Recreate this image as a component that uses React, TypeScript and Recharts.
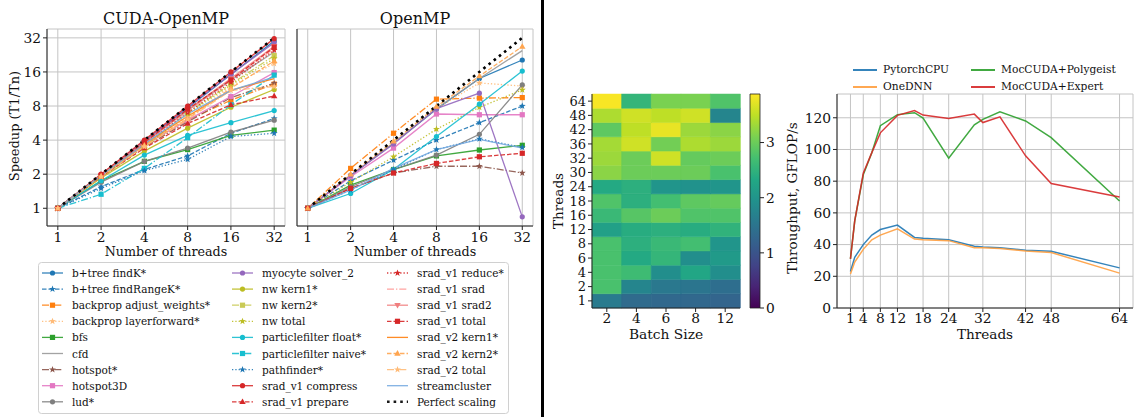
import React from 'react';
import { LineChart, Line, XAxis, YAxis, CartesianGrid, BarChart, Bar, Cell } from 'recharts';

const FONT = '"DejaVu Serif", serif';

// ---- speedup panels ----
const THREADS = [1, 2, 4, 8, 16, 32];
const SPEEDUP_TICKS = [1, 2, 4, 8, 16, 32];
const MINOR_X = [3, 5, 6, 7, 9, 10, 20, 30];
const MINOR_Y = [0.8, 0.9, 3, 5, 6, 7, 9, 10, 20, 30];
const PERFECT = [1, 2, 4, 8, 16, 32];

const SERIES_NAMES = [
  'b+tree findK*', 'b+tree findRangeK*', 'backprop adjust_weights*', 'backprop layerforward*',
  'bfs', 'cfd', 'hotspot*', 'hotspot3D', 'lud*',
  'myocyte solver_2', 'nw kern1*', 'nw kern2*', 'nw total', 'particlefilter float*',
  'particlefilter naive*', 'pathfinder*', 'srad_v1 compress', 'srad_v1 prepare',
  'srad_v1 reduce*', 'srad_v1 srad', 'srad_v1 srad2', 'srad_v1 total', 'srad_v2 kern1*',
  'srad_v2 kern2*', 'srad_v2 total', 'streamcluster',
];
const SERIES_COLORS = [
  '#1f77b4', '#1f77b4', '#ff7f0e', '#ffbb78', '#2ca02c', '#999999', '#8c564b', '#e377c2', '#7f7f7f',
  '#9467bd', '#bcbd22', '#c9ca55', '#bcbd22', '#17becf', '#17becf', '#1f77b4', '#d62728', '#d62728',
  '#d62728', '#ff9896', '#f07f7f', '#d62728', '#ff7f0e', '#ffa54f', '#ffbb78', '#74a9e0',
];
const SERIES_STYLES = [
  'solid', 'dashed', 'dashdot', 'dotted', 'solid', 'solid', 'dashdot', 'solid', 'solid',
  'solid', 'solid', 'dashdot', 'dotted', 'solid', 'dashdot', 'dotted', 'solid', 'dashed',
  'dotted', 'dashdot', 'solid', 'dashed', 'solid', 'dashed', 'dashdot', 'solid',
];
const SERIES_MARKERS = [
  'o', '*', 's', '*', 's', '', '*', 's', 'o',
  'o', 'o', 's', '*', 'o', 's', '*', 'o', '^',
  '*', '', 'v', 's', '', '^', '*', '',
];

const CUDA_OPENMP = [
  [1, 1.97, 3.9, 7.7, 15.2, 30],
  [1, 1.55, 2.2, 2.9, 4.6, 6.2],
  [1, 1.9, 3.5, 6.0, 9.0, 12.5],
  [1, 1.92, 3.6, 6.3, 12.0, 19],
  [1, 1.75, 2.6, 3.3, 4.4, 4.9],
  [1, 1.95, 3.8, 7.3, 13.5, 24],
  [1, 1.9, 3.5, 5.8, 9.5, 12.7],
  [1, 1.9, 3.6, 6.0, 9.7, 15.8],
  [1, 1.7, 2.6, 3.4, 4.7, 6.0],
  [1, 1.98, 3.9, 7.8, 15.3, 29],
  [1, 1.85, 3.2, 5.1, 7.8, 11.2],
  [1, 1.9, 3.5, 7.0, 12.5, 22.3],
  [1, 1.9, 3.5, 6.8, 12.3, 21],
  [1, 1.75, 2.95, 4.4, 5.7, 7.3],
  [1, 1.33, 2.25, 4.2, 8.2, 15],
  [1, 1.5, 2.15, 2.7, 4.3, 4.6],
  [1, 2, 4, 8, 16, 31.5],
  [1, 1.9, 3.4, 5.6, 8.2, 9.8],
  [1, 1.95, 3.7, 7.0, 13, 25],
  [1, 1.95, 3.8, 7.2, 13.5, 26],
  [1, 1.95, 3.8, 7.4, 14, 27],
  [1, 1.95, 3.8, 7.5, 13.6, 26.5],
  [1, 1.95, 3.7, 6.5, 11, 14],
  [1, 1.92, 3.6, 6.2, 11.5, 20],
  [1, 1.9, 3.5, 6.1, 11, 11.9],
  [1, 1.95, 3.7, 6.8, 11, 14.4],
];

const OPENMP = [
  [1, 1.95, 3.75, 7.5, 14, 20.4],
  [1, 1.75, 2.66, 4.0, 5.7, 8.0],
  [1, 2.25, 4.6, 9.2, 9.4, 9.5],
  [1, 1.95, 3.8, 7.6, 12.8, 12.0],
  [1, 1.6, 2.2, 2.9, 3.27, 3.6],
  [1, 1.95, 3.75, 7.6, 14, 24.7],
  [1, 1.5, 2.05, 2.35, 2.35, 2.05],
  [1, 1.9, 3.4, 6.8, 6.7, 6.7],
  [1, 1.55, 2.2, 2.95, 4.5, 12.3],
  [1, 1.95, 3.7, 7.6, 10.4, 0.84],
  null,
  null,
  [1, 1.7, 2.85, 5.0, 7.8, 11.1],
  [1, 1.35, 2.2, 4.3, 8.3, 16.3],
  null,
  [1, 1.45, 2.2, 3.3, 4.1, 3.45],
  null,
  null,
  null,
  null,
  null,
  [1, 1.5, 2.05, 2.49, 2.85, 3.06],
  null,
  [1, 2.0, 3.9, 7.9, 14.7, 26.8],
  null,
  [1, 1.45, 2.25, 3.3, 4.06, 3.4],
];

// ---- heatmap ----
const HEAT_BATCH = [2, 4, 6, 8, 12];
const HEAT_THREADS = [1, 2, 4, 6, 8, 12, 16, 18, 24, 30, 32, 36, 42, 48, 64];
const HEAT_VALUES = [
  [1.6, 1.35, 1.3, 1.3, 1.25],
  [2.75, 1.75, 1.55, 1.5, 1.4],
  [2.75, 2.65, 1.9, 2.3, 1.9],
  [2.75, 2.35, 2.55, 1.9, 2.1],
  [2.75, 2.45, 2.6, 2.7, 2.0],
  [2.2, 2.4, 2.45, 2.4, 2.5],
  [2.6, 2.85, 3.0, 2.8, 2.8],
  [2.8, 2.45, 2.7, 2.9, 2.95],
  [2.35, 2.45, 2.0, 1.95, 2.0],
  [3.2, 3.0, 3.0, 3.0, 2.75],
  [3.3, 3.0, 3.6, 2.95, 3.0],
  [3.35, 3.6, 3.05, 3.4, 3.3],
  [2.9, 3.5, 3.75, 3.3, 3.2],
  [3.4, 3.6, 3.5, 3.6, 1.75],
  [3.85, 2.55, 3.1, 3.1, 2.8],
];
const HEAT_VMAX = 3.88;
const COLORBAR_TICKS = [0, 1, 2, 3];

// ---- throughput ----
const TP_THREADS = [1, 2, 4, 6, 8, 12, 16, 18, 24, 30, 32, 36, 42, 48, 64];
const TP_TICKS = [1, 4, 8, 12, 18, 24, 32, 42, 48, 64];
const TP_Y_TICKS = [0, 20, 40, 60, 80, 100, 120];
const PYTORCH_CPU = [23, 32, 40, 46, 49.5, 52.3, 44.5, 44, 43, 39, 38.5, 38, 36.5, 35.8, 25.3];
const ONEDNN = [21.5, 29, 37, 43, 46, 50, 43.5, 43, 42.5, 38, 38, 37.5, 36, 35, 22];
const MOC_POLYGEIST = [31, 55, 84, 98, 115, 122, 123.2, 119.8, 94.5, 115.5, 119, 123.8, 118, 107.5, 67.5];
const MOC_EXPERT = [31, 55, 85, 98, 110.5, 121.5, 124.5, 121.7, 119.5, 122.3, 117, 120.6, 96, 78.5, 70];
const TP_NAMES = ['PytorchCPU', 'OneDNN', 'MocCUDA+Polygeist', 'MocCUDA+Expert'];
const TP_COLORS = ['#1f77b4', '#ff9f3f', '#2ca02c', '#d62728'];

const DASH: Record<string, string | undefined> = {
  solid: undefined,
  dashed: '4.5 2',
  dashdot: '7 2 1.3 2',
  dotted: '1.3 2',
};

const VIRIDIS = ['#440154', '#482475', '#414487', '#355f8d', '#2a788e', '#21918c', '#22a884', '#44bf70', '#7ad151', '#bddf26', '#fde725'];

function viridis(t: number) {
  const c = Math.max(0, Math.min(1, t)) * (VIRIDIS.length - 1);
  const i = Math.min(VIRIDIS.length - 2, Math.floor(c));
  const f = c - i;
  const a = VIRIDIS[i], b = VIRIDIS[i + 1];
  const ch = (h: string, k: number) => parseInt(h.slice(1 + k * 2, 3 + k * 2), 16);
  const mix = [0, 1, 2].map((k) => Math.round(ch(a, k) + (ch(b, k) - ch(a, k)) * f));
  return `rgb(${mix.join(',')})`;
}

function Marker({ type, x, y, color }: { type: string; x: number; y: number; color: string }) {
  if (type === 'o') return <circle cx={x} cy={y} r={2.6} fill={color} />;
  if (type === 's') return <rect x={x - 2.6} y={y - 2.6} width={5.2} height={5.2} fill={color} />;
  if (type === '^') return <polygon points={`${x},${y - 3.4} ${x - 3.2},${y + 2.2} ${x + 3.2},${y + 2.2}`} fill={color} />;
  if (type === 'v') return <polygon points={`${x},${y + 3.4} ${x - 3.2},${y - 2.2} ${x + 3.2},${y - 2.2}`} fill={color} />;
  if (type === '*') {
    const pts: string[] = [];
    for (let i = 0; i < 10; i++) {
      const r = i % 2 === 0 ? 3.6 : 1.5;
      const a = -Math.PI / 2 + (i * Math.PI) / 5;
      pts.push(`${x + r * Math.cos(a)},${y + r * Math.sin(a)}`);
    }
    return <polygon points={pts.join(' ')} fill={color} />;
  }
  return null;
}

const markerDot = (type: string, color: string) => (p: any) => {
  const { cx, cy, index, value } = p;
  if (!type || cx == null || cy == null || value == null) return <g key={`d${index}`} />;
  return (
    <g key={`d${index}`}>
      <Marker type={type} x={cx} y={cy} color={color} />
    </g>
  );
};

const tickStyle = { fontSize: 13, fill: '#111', fontFamily: FONT };
const tickBig = { fontSize: 13.8, fill: '#111', fontFamily: FONT };
const AX = '#222';
const GRID = '#c4c4c4';

function SpeedupPanel({ values, showLabels, width, yWidth, marginRight }: any) {
  const data = THREADS.map((t, i) => {
    const row: any = { t, perfect: PERFECT[i] };
    values.forEach((vals: number[] | null, k: number) => {
      if (vals) row['s' + k] = vals[i];
    });
    return row;
  });
  const xDomain = [Math.pow(2, -0.25), Math.pow(2, 5.25)];
  const yDomain = [Math.pow(2, -0.52), Math.pow(2, 5.26)];
  return (
    <LineChart width={width} height={260} data={data} margin={{ top: 29, right: marginRight, left: 0, bottom: 4 }}>
      <XAxis xAxisId="minor" dataKey="t" type="number" scale="log" domain={xDomain} allowDataOverflow ticks={MINOR_X}
        interval={0} height={0} axisLine={false} tickSize={2} tickLine={{ stroke: AX }} tickFormatter={() => ''} />
      <YAxis yAxisId="minor" type="number" scale="log" domain={yDomain} allowDataOverflow ticks={MINOR_Y}
        interval={0} width={0} axisLine={false} tickSize={2} tickLine={{ stroke: AX }} tickFormatter={() => ''} />
      <XAxis xAxisId="top" orientation="top" dataKey="t" type="number" scale="log" domain={xDomain} allowDataOverflow
        height={0} tick={false} tickLine={false} axisLine={{ stroke: AX }} />
      <YAxis yAxisId="right" orientation="right" type="number" scale="log" domain={yDomain} allowDataOverflow
        width={0} tick={false} tickLine={false} axisLine={{ stroke: AX }} />
      <CartesianGrid stroke={GRID} strokeWidth={1} />
      <XAxis dataKey="t" type="number" scale="log" domain={xDomain} allowDataOverflow ticks={SPEEDUP_TICKS}
        interval={0} height={30} tickSize={4} tickMargin={2} tick={tickBig} tickLine={{ stroke: AX }} axisLine={{ stroke: AX }} />
      <YAxis type="number" scale="log" domain={yDomain} allowDataOverflow ticks={SPEEDUP_TICKS} interval={0}
        width={yWidth} tickSize={4} tickMargin={2} tick={showLabels ? tickBig : false}
        tickLine={{ stroke: AX }} axisLine={{ stroke: AX }} />
      {SERIES_NAMES.map((name, k) =>
        values[k] ? (
          <Line key={name} dataKey={'s' + k} type="linear" stroke={SERIES_COLORS[k]} strokeOpacity={0.9}
            strokeWidth={1.3} strokeDasharray={DASH[SERIES_STYLES[k]]}
            dot={markerDot(SERIES_MARKERS[k], SERIES_COLORS[k])} activeDot={false} isAnimationActive={false} />
        ) : null
      )}
      <Line dataKey="perfect" type="linear" stroke="#000" strokeWidth={2.6} strokeDasharray="2.6 4"
        dot={false} activeDot={false} isAnimationActive={false} />
    </LineChart>
  );
}

function SpeedupLegend() {
  const items = [
    ...SERIES_NAMES.map((n, k) => ({ name: n, color: SERIES_COLORS[k], style: SERIES_STYLES[k], marker: SERIES_MARKERS[k], w: 1.3 })),
    { name: 'Perfect scaling', color: '#000', style: 'perfect', marker: '', w: 2.6 },
  ];
  const colX = [4, 194, 349];
  return (
    <svg width={472} height={153} style={{ position: 'absolute', left: 38, top: 262 }}>
      <rect x={0.5} y={0.5} width={470} height={151} rx={3} fill="#fff" stroke="#d0d0d0" />
      {items.map((it, i) => {
        const c = Math.floor(i / 9);
        const r = i % 9;
        const x = colX[c];
        const y = 11 + r * 16.1;
        return (
          <g key={it.name}>
            <line x1={x} x2={x + 21} y1={y} y2={y} stroke={it.color} strokeOpacity={0.9} strokeWidth={it.w}
              strokeDasharray={it.style === 'perfect' ? '2.6 4' : DASH[it.style]} />
            {it.marker ? <Marker type={it.marker} x={x + 10.5} y={y} color={it.color} /> : null}
            <text x={x + 30} y={y + 4} fontSize={10.5} fontFamily={FONT} fill="#111">{it.name}</text>
          </g>
        );
      })}
    </svg>
  );
}

function Heatmap() {
  const data = HEAT_BATCH.map((b) => {
    const row: any = { batch: String(b) };
    HEAT_THREADS.forEach((_, i) => {
      row['r' + i] = 1;
    });
    return row;
  });
  return (
    <BarChart width={200} height={270} data={data} margin={{ top: 34, right: 5, left: 0, bottom: 0 }} barCategoryGap={0}>
      <XAxis xAxisId="top" orientation="top" dataKey="batch" height={0} tick={false} tickLine={false} axisLine={{ stroke: AX }} />
      <YAxis yAxisId="right" orientation="right" type="number" domain={[0, HEAT_THREADS.length]} width={0} tick={false}
        tickLine={false} axisLine={{ stroke: AX }} />
      <XAxis dataKey="batch" height={22} tickSize={4} tickMargin={1} tick={tickBig} tickLine={{ stroke: AX }} axisLine={{ stroke: AX }} />
      <YAxis type="number" domain={[0, HEAT_THREADS.length]} ticks={HEAT_THREADS.map((_, i) => i + 0.5)} interval={0}
        tickFormatter={(v: number) => String(HEAT_THREADS[Math.floor(v)])} width={47} tickSize={4} tickMargin={2}
        tick={tickStyle} tickLine={{ stroke: AX }} axisLine={{ stroke: AX }} />
      {HEAT_THREADS.map((t, i) => (
        <Bar key={t} dataKey={'r' + i} stackId="h" isAnimationActive={false}>
          {HEAT_BATCH.map((b, j) => {
            const fill = viridis(HEAT_VALUES[i][j] / HEAT_VMAX);
            return <Cell key={b} fill={fill} stroke={fill} strokeWidth={0.5} />;
          })}
        </Bar>
      ))}
    </BarChart>
  );
}

function Colorbar() {
  const data = [{ c: 'cb', v: HEAT_VMAX }];
  return (
    <BarChart width={50} height={270} data={data} margin={{ top: 34, right: 0, left: 5, bottom: 22 }} barCategoryGap={0}>
      <defs>
        <linearGradient id="viridisGrad" x1="0" y1="1" x2="0" y2="0">
          {VIRIDIS.map((c, i) => (
            <stop key={c} offset={`${(i / (VIRIDIS.length - 1)) * 100}%`} stopColor={c} />
          ))}
        </linearGradient>
      </defs>
      <XAxis dataKey="c" hide />
      <YAxis orientation="right" type="number" domain={[0, HEAT_VMAX]} ticks={COLORBAR_TICKS} interval={0} width={35}
        tickSize={4} tickMargin={2} tick={tickBig} tickLine={{ stroke: AX }} axisLine={false} />
      <Bar dataKey="v" fill="url(#viridisGrad)" stroke="#222" strokeWidth={0.8} isAnimationActive={false} />
    </BarChart>
  );
}

function Throughput() {
  const data = TP_THREADS.map((t, i) => ({
    t,
    p: PYTORCH_CPU[i],
    o: ONEDNN[i],
    g: MOC_POLYGEIST[i],
    e: MOC_EXPERT[i],
  }));
  const xDomain = [-2.15, 67.15];
  const keys = ['p', 'o', 'g', 'e'];
  return (
    <LineChart width={354} height={300} data={data} margin={{ top: 54, right: 1, left: 0, bottom: 4 }}>
      <XAxis xAxisId="top" orientation="top" dataKey="t" type="number" domain={xDomain} allowDataOverflow height={0}
        tick={false} tickLine={false} axisLine={{ stroke: AX }} />
      <YAxis yAxisId="right" orientation="right" type="number" domain={[0, 135]} allowDataOverflow width={0} tick={false}
        tickLine={false} axisLine={{ stroke: AX }} />
      <CartesianGrid stroke={GRID} strokeWidth={1} />
      <XAxis dataKey="t" type="number" domain={xDomain} allowDataOverflow ticks={TP_TICKS} interval={0} height={28}
        tickSize={4} tickMargin={1} tick={tickBig} tickLine={{ stroke: AX }} axisLine={{ stroke: AX }} />
      <YAxis type="number" domain={[0, 135]} allowDataOverflow ticks={TP_Y_TICKS} interval={0} width={57}
        tickSize={4} tickMargin={2} tick={tickBig} tickLine={{ stroke: AX }} axisLine={{ stroke: AX }} />
      {keys.map((k, i) => (
        <Line key={k} dataKey={k} type="linear" stroke={TP_COLORS[i]} strokeOpacity={0.9} strokeWidth={1.5}
          dot={false} activeDot={false} isAnimationActive={false} />
      ))}
    </LineChart>
  );
}

const abs = (left: number, top: number): React.CSSProperties => ({ position: 'absolute', left, top });
const txt = (size: number): React.CSSProperties => ({ fontFamily: FONT, fontSize: size, color: '#111', whiteSpace: 'nowrap' });

export default function App() {
  const legendPos = [
    { x: 853, y: 70 },
    { x: 853, y: 87 },
    { x: 971, y: 70 },
    { x: 971, y: 87 },
  ];
  return (
    <div style={{ position: 'absolute', left: 0, top: 0, width: 1134, height: 417, background: '#fff', overflow: 'hidden' }}>
      <div style={abs(0, 0)}>
        <SpeedupPanel values={CUDA_OPENMP} showLabels width={290} yWidth={47} marginRight={5} />
      </div>
      <div style={abs(290, 0)}>
        <SpeedupPanel values={OPENMP} showLabels={false} width={250} yWidth={7} marginRight={7} />
      </div>
      <div style={{ ...abs(0, 9), width: 332, textAlign: 'center', ...txt(16) }}>CUDA-OpenMP</div>
      <div style={{ ...abs(297, 9), width: 236, textAlign: 'center', ...txt(16) }}>OpenMP</div>
      <div style={{ ...abs(47, 244), width: 238, textAlign: 'center', ...txt(12.7) }}>Number of threads</div>
      <div style={{ ...abs(297, 244), width: 236, textAlign: 'center', ...txt(12.7) }}>Number of threads</div>
      <div style={{ ...abs(14, 126), ...txt(13), transform: 'translate(-50%, -50%) rotate(-90deg)' }}>Speedup (T1/Tn)</div>
      <SpeedupLegend />

      <div style={{ position: 'absolute', left: 541, top: 0, width: 2.5, height: 417, background: '#000' }} />

      <div style={abs(545, 60)}>
        <Heatmap />
      </div>
      <div style={abs(745, 60)}>
        <Colorbar />
      </div>
      <div style={{ ...abs(592, 326), width: 148, textAlign: 'center', ...txt(13.8) }}>Batch Size</div>
      <div style={{ ...abs(558, 201), ...txt(13.6), transform: 'translate(-50%, -50%) rotate(-90deg)' }}>Threads</div>

      <div style={abs(780, 40)}>
        <Throughput />
      </div>
      <div style={{ ...abs(792, 198), ...txt(13.6), transform: 'translate(-50%, -50%) rotate(-90deg)' }}>Throughput, GFLOP/s</div>
      <div style={{ ...abs(837, 326), width: 296, textAlign: 'center', ...txt(13.6) }}>Threads</div>
      {TP_NAMES.map((n, i) => (
        <div key={n} style={{ ...abs(legendPos[i].x, legendPos[i].y - 8), display: 'flex', alignItems: 'center' }}>
          <div style={{ width: 24, height: 2, background: TP_COLORS[i], opacity: 0.9 }} />
          <div style={{ marginLeft: 6, ...txt(10.7), lineHeight: '16px' }}>{n}</div>
        </div>
      ))}
    </div>
  );
}
